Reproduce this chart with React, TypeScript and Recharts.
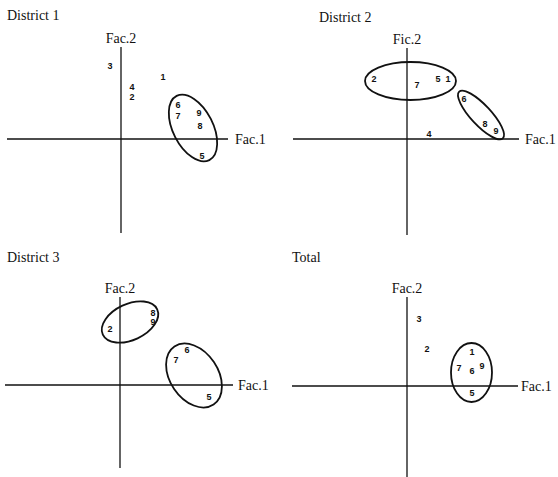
import { ReferenceLine, Scatter, ScatterChart, XAxis, YAxis } from 'recharts';

// District 1 – factor scores per item
const d1Ids = ['1', '2', '3', '4', '5', '6', '7', '8', '9'];
const d1Fac1 = [4.2, 1.1, -1.1, 1.1, 8.1, 5.7, 5.7, 7.9, 7.8];
const d1Fac2 = [6.2, 4.2, 7.3, 5.2, -1.7, 3.4, 2.3, 1.3, 2.6];
const d1GroupFac1 = [7.2];
const d1GroupFac2 = [1.1];
const d1GroupMajor = [3.6];
const d1GroupMinor = [2.0];
const d1GroupTilt = [-63];

// District 2
const d2Ids = ['1', '2', '4', '5', '6', '7', '8', '9'];
const d2Fac1 = [4.1, -3.3, 2.2, 3.1, 5.7, 1.0, 7.8, 8.9];
const d2Fac2 = [6.0, 6.0, 0.5, 6.0, 4.0, 5.4, 1.5, 0.8];
const d2GroupFac1 = [0.35, 7.4];
const d2GroupFac2 = [5.8, 2.4];
const d2GroupMajor = [4.55, 3.2];
const d2GroupMinor = [1.9, 1.0];
const d2GroupTilt = [0, -47];

// District 3
const d3Ids = ['2', '5', '6', '7', '8', '9'];
const d3Fac1 = [-1.0, 8.9, 6.7, 5.6, 3.3, 3.3];
const d3Fac2 = [5.6, -1.2, 3.5, 2.5, 7.25, 6.3];
const d3GroupFac1 = [1.0, 7.4];
const d3GroupFac2 = [6.3, 0.95];
const d3GroupMajor = [3.0, 3.5];
const d3GroupMinor = [1.8, 2.4];
const d3GroupTilt = [25, -56];

// Total
const totIds = ['1', '2', '3', '5', '6', '7', '9'];
const totFac1 = [6.5, 2.0, 1.2, 6.5, 6.5, 5.2, 7.5];
const totFac2 = [3.4, 3.7, 6.7, -0.7, 1.5, 1.8, 2.0];
const totGroupFac1 = [6.45];
const totGroupFac2 = [1.35];
const totGroupMajor = [2.05];
const totGroupMinor = [2.95];
const totGroupTilt = [0];

const SERIF = '"Liberation Serif", "DejaVu Serif", serif';
const SANS = '"Liberation Sans", Arial, sans-serif';

type Margin = { top: number; right: number; bottom: number; left: number };

function Panel({
  left,
  top,
  width,
  height,
  margin,
  xDomain,
  yDomain,
  ids,
  fac1,
  fac2,
  gFac1,
  gFac2,
  gMajor,
  gMinor,
  gTilt,
  yLabel,
  xLabelOffset,
}: {
  left: number;
  top: number;
  width: number;
  height: number;
  margin: Margin;
  xDomain: [number, number];
  yDomain: [number, number];
  ids: string[];
  fac1: number[];
  fac2: number[];
  gFac1: number[];
  gFac2: number[];
  gMajor: number[];
  gMinor: number[];
  gTilt: number[];
  yLabel: string;
  xLabelOffset: number;
}) {
  const points = ids.map((id, i) => ({ x: fac1[i], y: fac2[i], id }));
  const groups = gFac1.map((x, i) => ({ x, y: gFac2[i], a: gMajor[i], b: gMinor[i], tilt: gTilt[i] }));
  // pixels per factor unit (same on both axes)
  const k = (width - margin.left - margin.right) / (xDomain[1] - xDomain[0]);

  return (
    <div style={{ position: 'absolute', left, top }}>
      <ScatterChart width={width} height={height} margin={margin}>
        <XAxis type="number" dataKey="x" domain={xDomain} allowDataOverflow hide />
        <YAxis type="number" dataKey="y" domain={yDomain} allowDataOverflow hide />
        <ReferenceLine
          y={0}
          stroke="#111"
          strokeWidth={1.3}
          label={{ value: 'Fac.1', position: 'right', offset: xLabelOffset, fill: '#111', fontSize: 14, fontFamily: SERIF }}
        />
        <ReferenceLine
          x={0}
          stroke="#111"
          strokeWidth={1.3}
          label={{ value: yLabel, position: 'top', offset: 4, fill: '#111', fontSize: 14, fontFamily: SERIF }}
        />
        <Scatter
          data={groups}
          isAnimationActive={false}
          shape={(p: any) => (
            <ellipse
              cx={p.cx}
              cy={p.cy}
              rx={p.payload.a * k}
              ry={p.payload.b * k}
              transform={`rotate(${-p.payload.tilt} ${p.cx} ${p.cy})`}
              fill="none"
              stroke="#111"
              strokeWidth={1.8}
            />
          )}
        />
        <Scatter
          data={points}
          isAnimationActive={false}
          shape={(p: any) => (
            <text
              x={p.cx}
              y={p.cy}
              textAnchor="middle"
              dominantBaseline="central"
              fontSize={9}
              fontWeight="bold"
              fontFamily={SANS}
              fill="#111"
            >
              {p.payload.id}
            </text>
          )}
        />
      </ScatterChart>
    </div>
  );
}

function Title({ left, top, text }: { left: number; top: number; text: string }) {
  return (
    <div style={{ position: 'absolute', left, top, fontFamily: SERIF, fontSize: 14, lineHeight: '16px', color: '#111' }}>
      {text}
    </div>
  );
}

export default function App() {
  return (
    <div style={{ position: 'absolute', left: 0, top: 0, width: 558, height: 477, background: '#fff', overflow: 'hidden' }}>
      <Panel
        left={0}
        top={0}
        width={279}
        height={240}
        margin={{ top: 47, right: 51, bottom: 7, left: 7 }}
        xDomain={[-11.4, 10.7]}
        yDomain={[-9.4, 9.2]}
        ids={d1Ids}
        fac1={d1Fac1}
        fac2={d1Fac2}
        gFac1={d1GroupFac1}
        gFac2={d1GroupFac2}
        gMajor={d1GroupMajor}
        gMinor={d1GroupMinor}
        gTilt={d1GroupTilt}
        yLabel="Fac.2"
        xLabelOffset={7}
      />
      <Panel
        left={279}
        top={0}
        width={279}
        height={240}
        margin={{ top: 48, right: 39, bottom: 5, left: 14 }}
        xDomain={[-11.4, 11.2]}
        yDomain={[-9.6, 9.1]}
        ids={d2Ids}
        fac1={d2Fac1}
        fac2={d2Fac2}
        gFac1={d2GroupFac1}
        gFac2={d2GroupFac2}
        gMajor={d2GroupMajor}
        gMinor={d2GroupMinor}
        gTilt={d2GroupTilt}
        yLabel="Fic.2"
        xLabelOffset={6}
      />
      <Panel
        left={0}
        top={240}
        width={279}
        height={237}
        margin={{ top: 57, right: 46, bottom: 9, left: 5 }}
        xDomain={[-11.5, 11.3]}
        yDomain={[-8.3, 8.8]}
        ids={d3Ids}
        fac1={d3Fac1}
        fac2={d3Fac2}
        gFac1={d3GroupFac1}
        gFac2={d3GroupFac2}
        gMajor={d3GroupMajor}
        gMinor={d3GroupMinor}
        gTilt={d3GroupTilt}
        yLabel="Fac.2"
        xLabelOffset={5}
      />
      <Panel
        left={279}
        top={240}
        width={279}
        height={237}
        margin={{ top: 57, right: 40, bottom: 0, left: 13 }}
        xDomain={[-11.5, 11.1]}
        yDomain={[-9.1, 8.9]}
        ids={totIds}
        fac1={totFac1}
        fac2={totFac2}
        gFac1={totGroupFac1}
        gFac2={totGroupFac2}
        gMajor={totGroupMajor}
        gMinor={totGroupMinor}
        gTilt={totGroupTilt}
        yLabel="Fac.2"
        xLabelOffset={3}
      />
      <Title left={7} top={8} text="District 1" />
      <Title left={319} top={10} text="District 2" />
      <Title left={7} top={250} text="District 3" />
      <Title left={292} top={250} text="Total" />
    </div>
  );
}
